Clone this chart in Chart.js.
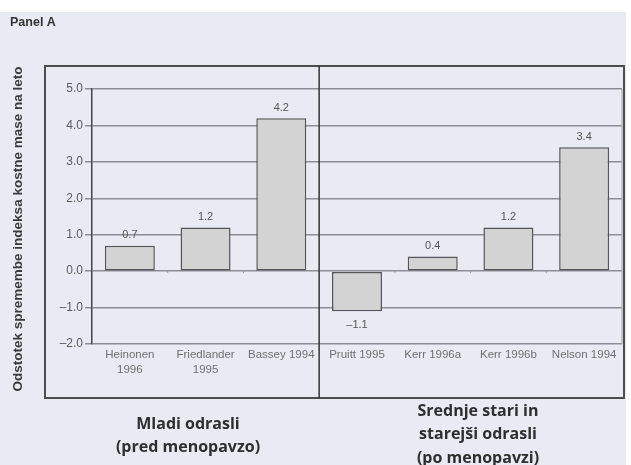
<!DOCTYPE html>
<html>
<head>
<meta charset="utf-8">
<script src="https://cdn.jsdelivr.net/npm/chart.js@4.4.1/dist/chart.umd.min.js"></script>
<style>
  html, body { margin: 0; padding: 0; background: #ffffff; }
  #wrap { width: 631px; height: 465px; position: relative; }
</style>
</head>
<body>
<div id="wrap"><canvas id="c" width="631" height="465"></canvas></div>
<script>
// ---- data ----
const categories = [["Heinonen", "1996"], ["Friedlander", "1995"], "Bassey 1994", "Pruitt 1995", "Kerr 1996a", "Kerr 1996b", "Nelson 1994"];
const values = [0.7, 1.2, 4.2, -1.1, 0.4, 1.2, 3.4];
const valueLabels = ["0.7", "1.2", "4.2", "\u20131.1", "0.4", "1.2", "3.4"];
const yTickLabels = ["\u20132.0", "\u20131.0", "0.0", "1.0", "2.0", "3.0", "4.0", "5.0"];
const yTitle = "Odstotek spremembe indeksa kostne mase na leto";
const panelTitle = "Panel A";
const groupLeft = ["Mladi odrasli", "(pred menopavzo)"];
const groupRight = ["Srednje stari in", "starejši odrasli", "(po menopavzi)"];

const BG = '#e9eaf4';

const decor = {
  id: 'decor',
  beforeDraw(chart) {
    const ctx = chart.ctx;
    ctx.save();
    ctx.fillStyle = '#ffffff';
    ctx.fillRect(0, 0, chart.width, chart.height);
    ctx.fillStyle = BG;
    ctx.fillRect(0, 12, 626, chart.height - 12);
    ctx.restore();
  },
  afterDraw(chart) {
    const ctx = chart.ctx;
    const area = chart.chartArea;
    const xs = chart.scales.x, ys = chart.scales.y;
    ctx.save();
    // right border of plot
    ctx.strokeStyle = '#a9a9b0';
    ctx.lineWidth = 1.2;
    ctx.beginPath();
    ctx.moveTo(area.right, area.top);
    ctx.lineTo(area.right, area.bottom);
    ctx.stroke();
    // outer box
    ctx.strokeStyle = '#4d4d4d';
    ctx.lineWidth = 2;
    ctx.strokeRect(45, 66, 579, 332);
    // divider between groups
    const divX = (xs.getPixelForValue(2) + xs.getPixelForValue(3)) / 2;
    ctx.strokeStyle = '#333333';
    ctx.lineWidth = 1.5;
    ctx.beginPath();
    ctx.moveTo(divX, 66);
    ctx.lineTo(divX, 398);
    ctx.stroke();
    // small ticks at category boundaries on zero line
    const y0 = ys.getPixelForValue(0);
    ctx.strokeStyle = '#9a9aa4';
    ctx.lineWidth = 1;
    for (let i = 0; i < values.length - 1; i++) {
      if (i === 2) continue;
      const bx = (xs.getPixelForValue(i) + xs.getPixelForValue(i + 1)) / 2;
      ctx.beginPath();
      ctx.moveTo(bx, y0 - 1);
      ctx.lineTo(bx, y0 + 2);
      ctx.stroke();
    }
    // value labels
    const meta = chart.getDatasetMeta(0);
    ctx.fillStyle = '#555555';
    ctx.font = '11px "Liberation Sans", Arial, sans-serif';
    ctx.textAlign = 'center';
    meta.data.forEach((bar, i) => {
      const v = values[i];
      if (v >= 0) {
        ctx.textBaseline = 'bottom';
        ctx.fillText(valueLabels[i], bar.x, bar.y - 5);
      } else {
        ctx.textBaseline = 'top';
        ctx.fillText(valueLabels[i], bar.x, bar.y + 8);
      }
    });
    // panel title
    ctx.fillStyle = '#333333';
    ctx.font = 'bold 12.5px "Liberation Sans", Arial, sans-serif';
    ctx.textAlign = 'left';
    ctx.textBaseline = 'middle';
    ctx.fillText(panelTitle, 10, 23);
    // y axis title
    ctx.save();
    ctx.translate(18, 229);
    ctx.rotate(-Math.PI / 2);
    ctx.fillStyle = '#3a3a3a';
    ctx.font = 'bold 13.5px "Liberation Sans", Arial, sans-serif';
    ctx.textAlign = 'center';
    ctx.textBaseline = 'middle';
    ctx.fillText(yTitle, 0, 0);
    ctx.restore();
    // group labels
    ctx.fillStyle = '#2e2e2e';
    ctx.font = 'bold 16px "Open Sans", sans-serif';
    ctx.textAlign = 'center';
    ctx.textBaseline = 'middle';
    groupLeft.forEach((t, i) => ctx.fillText(t, 188, 424 + i * 23.5));
    groupRight.forEach((t, i) => ctx.fillText(t, 478, 411 + i * 23.5));
    ctx.restore();
  }
};

new Chart(document.getElementById('c'), {
  type: 'bar',
  data: {
    labels: categories,
    datasets: [{
      data: values,
      backgroundColor: '#d3d3d3',
      borderColor: '#555555',
      borderWidth: 1.5,
      borderSkipped: false,
      barPercentage: 0.66,
      categoryPercentage: 1.0
    }]
  },
  options: {
    responsive: false,
    animation: false,
    devicePixelRatio: 1,
    layout: { padding: { left: 0, right: 9, top: 89, bottom: 0 } },
    plugins: { legend: { display: false }, tooltip: { enabled: false } },
    scales: {
      x: {
        grid: { display: false, drawTicks: false },
        border: { display: false },
        ticks: {
          color: '#707070',
          font: { family: '"Liberation Sans", Arial, sans-serif', size: 11.5, lineHeight: 1.25 },
          padding: 4,
          maxRotation: 0,
          autoSkip: false
        },
        afterFit(scale) { scale.height = 121; }
      },
      y: {
        min: -2,
        max: 5,
        grid: { color: '#8c8c94', lineWidth: 1.5, tickLength: 7 },
        border: { color: '#444444', width: 1.5 },
        ticks: {
          stepSize: 1,
          color: '#5a5a5a',
          padding: 2,
          font: { family: '"Liberation Sans", Arial, sans-serif', size: 12 },
          callback: (v, i) => yTickLabels[i]
        },
        afterFit(scale) { scale.width = 92; }
      }
    }
  },
  plugins: [decor]
});
</script>
</body>
</html>
